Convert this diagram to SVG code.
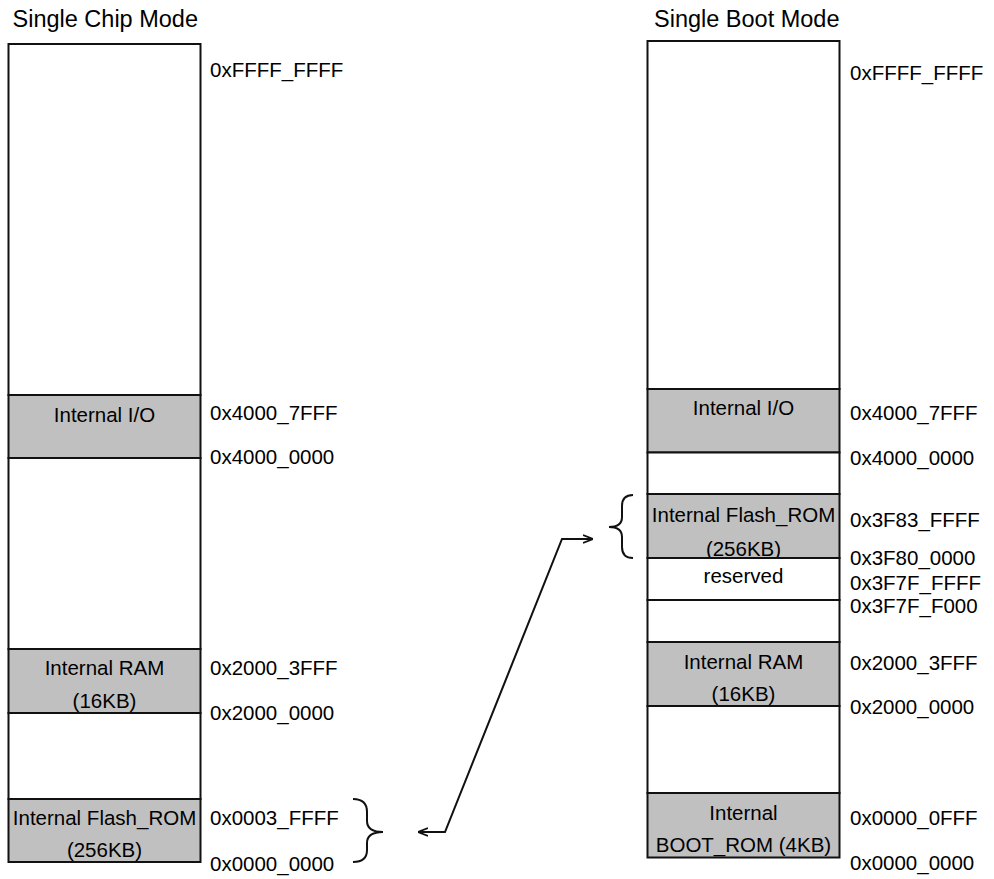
<svg xmlns="http://www.w3.org/2000/svg" width="994" height="879" viewBox="0 0 994 879">
<defs>
<style>
text{font-family:"Liberation Sans",Arial,sans-serif;font-size:20.5px;fill:#000}
.title{font-size:23.5px}
.c{text-anchor:middle}
.w{fill:#ffffff;stroke:#111;stroke-width:2}
.g{fill:#c0c0c0;stroke:#111;stroke-width:2}
.ln{fill:none;stroke:#111;stroke-width:2}
</style>
<marker id="ah" viewBox="0 0 10 10" refX="10" refY="5" markerWidth="10" markerHeight="10" markerUnits="userSpaceOnUse" orient="auto-start-reverse">
<path d="M0,1 L10,5 L0,9" fill="none" stroke="#111" stroke-width="1.8"/>
</marker>
</defs>
<rect width="994" height="879" fill="#ffffff"/>

<g id="left-map">
<text class="title" x="12.5" y="27">Single Chip Mode</text>
<g id="l-top"><rect class="w" x="8.5" y="44" width="192" height="351"/><text x="210" y="77">0xFFFF_FFFF</text></g>
<g id="l-io"><rect class="g" x="8.5" y="395" width="192" height="63"/><text class="c" x="104.5" y="422">Internal I/O</text><text x="210" y="420">0x4000_7FFF</text><text x="210" y="464">0x4000_0000</text></g>
<g id="l-gap1"><rect class="w" x="8.5" y="458" width="192" height="191"/></g>
<g id="l-ram"><rect class="g" x="8.5" y="649" width="192" height="64"/><text class="c" x="104.5" y="675">Internal RAM</text><text class="c" x="104.5" y="708">(16KB)</text><text x="210" y="675">0x2000_3FFF</text><text x="210" y="720">0x2000_0000</text></g>
<g id="l-gap2"><rect class="w" x="8.5" y="713" width="192" height="86"/></g>
<g id="l-flash"><rect class="g" x="8.5" y="799" width="192" height="63"/><text class="c" x="104.5" y="825">Internal Flash_ROM</text><text class="c" x="104.5" y="857">(256KB)</text><text x="210" y="825">0x0003_FFFF</text><text x="210" y="871">0x0000_0000</text></g>
</g>

<g id="right-map">
<text class="title" x="654" y="27">Single Boot Mode</text>
<g id="r-top"><rect class="w" x="647.5" y="41" width="192" height="348"/><text x="850" y="80">0xFFFF_FFFF</text></g>
<g id="r-io"><rect class="g" x="647.5" y="389" width="192" height="63.5"/><text class="c" x="743.5" y="415">Internal I/O</text><text x="850" y="420">0x4000_7FFF</text><text x="850" y="465">0x4000_0000</text></g>
<g id="r-gap1"><rect class="w" x="647.5" y="452.5" width="192" height="41.5"/></g>
<g id="r-flash"><rect class="g" x="647.5" y="494" width="192" height="64"/><text class="c" x="743.5" y="522">Internal Flash_ROM</text><text class="c" x="743.5" y="556">(256KB)</text><text x="850" y="527">0x3F83_FFFF</text><text x="850" y="565">0x3F80_0000</text></g>
<g id="r-reserved"><rect class="w" x="647.5" y="558" width="192" height="42"/><text class="c" x="743.5" y="583">reserved</text><text x="850" y="590">0x3F7F_FFFF</text><text x="850" y="613">0x3F7F_F000</text></g>
<g id="r-gap2"><rect class="w" x="647.5" y="600" width="192" height="42"/></g>
<g id="r-ram"><rect class="g" x="647.5" y="642" width="192" height="64"/><text class="c" x="743.5" y="669">Internal RAM</text><text class="c" x="743.5" y="701">(16KB)</text><text x="850" y="670">0x2000_3FFF</text><text x="850" y="714">0x2000_0000</text></g>
<g id="r-gap3"><rect class="w" x="647.5" y="706" width="192" height="87"/></g>
<g id="r-boot"><rect class="g" x="647.5" y="793" width="192" height="64.5"/><text class="c" x="743.5" y="820">Internal</text><text class="c" x="743.5" y="852">BOOT_ROM (4KB)</text><text x="850" y="825">0x0000_0FFF</text><text x="850" y="870">0x0000_0000</text></g>
</g>

<g id="connectors">
<path class="ln" d="M353,799 Q367,799 367,812 L367,821 Q367,832 383,832 Q367,832 367,843 L367,850 Q367,862 353,862"/>
<path class="ln" d="M633,495 Q622,495 622,506 L622,517 Q622,527 609,527 Q622,527 622,537 L622,547 Q622,558 633,558"/>
<path class="ln" d="M418,832 L445,832 L562,539 L593,539" marker-start="url(#ah)" marker-end="url(#ah)"/>
</g>
</svg>
